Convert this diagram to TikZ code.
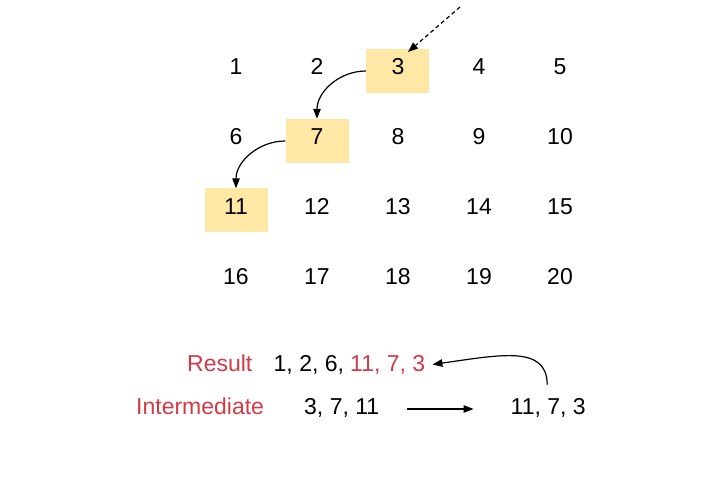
\documentclass[tikz,border=0pt]{standalone}
\usepackage{fontspec}
\setmainfont{Liberation Sans}
\usetikzlibrary{arrows.meta}
\definecolor{hlyellow}{HTML}{FFE8A6}
\definecolor{lblred}{HTML}{D13B45}
\begin{document}
\begin{tikzpicture}[x=1pt,y=-1pt,
  every node/.style={font=\fontsize{23}{27}\selectfont, inner sep=0pt},
  num/.style={anchor=base},
  hl/.style={fill=hlyellow, draw=none, minimum width=63pt, minimum height=44pt},
  txt/.style={anchor=base west},
  arr/.style={line width=1.2pt, -{Triangle[length=10pt,width=7.5pt]}},
  redtxt/.style={text=lblred}
]
\useasboundingbox (0,0) rectangle (721,489);
% highlight boxes
\node[hl] (b3) at (397.5,71) {};
\node[hl] (b7) at (317,141) {};
\node[hl] (b11) at (236,210.5) {};
% grid numbers
\foreach \n [count=\i from 0] in {1,...,20}{
  \pgfmathtruncatemacro{\c}{mod(\i,5)}
  \pgfmathtruncatemacro{\r}{int(\i/5)}
  \node[num] (n\n) at ({236+81*\c},{75+70*\r}) {\n};
}
% arrows in grid
\coordinate (ds) at (460,7);
\coordinate (dt) at (408,52);
\draw[arr, dashed, dash pattern=on 4pt off 3pt] (ds) -- (dt);
\draw[arr] (b3.west) to[out=180,in=90] (b7.north);
\draw[arr] (b7.west) to[out=180,in=90] (b11.north);
% bottom texts
\node[txt, redtxt] (res) at (187,371) {Result};
\node[txt] (r1) at (273.5,371) {1, 2, 6,};
\node[txt, redtxt] (r2) at (350,371) {11, 7, 3};
\node[txt, redtxt] (int) at (136,414) {Intermediate};
\node[txt] (i1) at (304,414) {3, 7, 11};
\node[txt] (i2) at (510.5,414) {11, 7, 3};
% bottom arrows
\draw[arr] ([xshift=28pt,yshift=5pt]i1.base east) -- ([xshift=-37pt,yshift=5pt]i2.base west);
\draw[arr] ([xshift=-1pt,yshift=13pt]i2.north) .. controls +(0,-40) and (500,355) .. ([xshift=7pt]r2.east);
\end{tikzpicture}
\end{document}
